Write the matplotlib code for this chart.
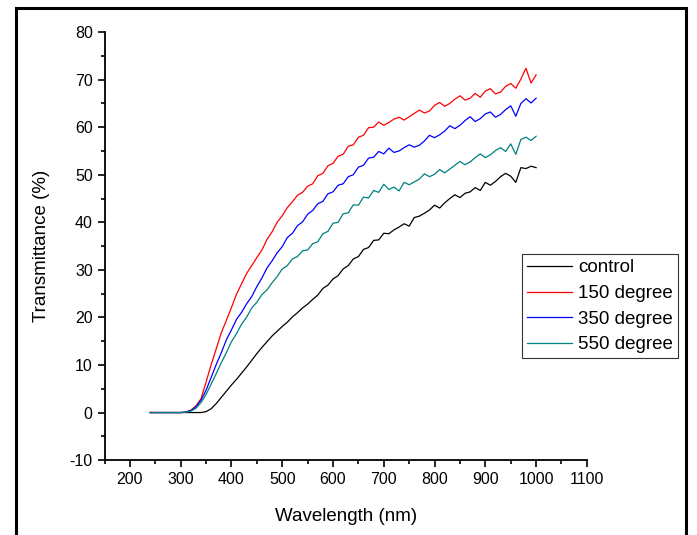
import matplotlib
matplotlib.use('Agg')
import matplotlib.pyplot as plt
from matplotlib.patches import Rectangle
from matplotlib.ticker import MultipleLocator

plt.rcParams['font.family'] = ['Liberation Sans', 'DejaVu Sans']
plt.rcParams['axes.unicode_minus'] = False

# wavelength grid (nm), 240..1000 every 10 nm
wavelength = list(range(240, 1001, 10))

control = [0, 0, 0, 0, 0, 0, 0, 0, 0, 0, 0,
           0.2, 0.8, 1.9, 3.2, 4.5, 5.8, 7.0, 8.3, 9.6, 11.0,
           12.4, 13.7, 14.9, 16.1, 17.1, 18.1, 19.0, 20.1, 21.0, 22.0,
           22.8, 23.8, 24.7, 26.1, 26.8, 28.1, 28.8, 30.2, 30.9, 32.3,
           32.8, 34.3, 34.7, 36.2, 36.3, 37.7, 37.6, 38.4, 39.0, 39.7,
           39.2, 41.0, 41.3, 41.9, 42.6, 43.6, 43.0, 44.1, 45.0, 45.8,
           45.2, 46.1, 46.4, 47.3, 46.7, 48.4, 47.8, 48.6, 49.6, 50.3,
           49.7, 48.4, 51.5, 51.3, 51.8, 51.5]

deg150 = [0, 0, 0, 0, 0, 0, 0,
          0.1, 0.5, 1.4, 2.9, 6.4, 10.1, 13.4, 16.8, 19.4, 22.1,
          24.9, 27.1, 29.3, 30.9, 32.6, 34.2, 36.4, 38.0, 40.0, 41.4,
          43.1, 44.3, 45.7, 46.3, 47.6, 48.1, 49.8, 50.3, 51.9, 52.4,
          53.9, 54.3, 56.0, 56.3, 57.9, 58.3, 59.9, 60.0, 61.1, 60.4,
          61.0, 61.7, 62.1, 61.5, 62.2, 62.9, 63.6, 63.0, 63.4, 64.6,
          65.2, 64.4, 65.0, 65.9, 66.6, 65.7, 66.1, 67.1, 66.3, 67.6,
          68.1, 67.0, 67.4, 68.6, 69.2, 68.2, 70.1, 72.4, 69.3, 71.0]

deg350 = [0, 0, 0, 0, 0, 0, 0,
          0.1, 0.4, 1.2, 2.6, 4.7, 7.4, 10.1, 12.6, 15.3, 17.4,
          19.6, 21.1, 22.9, 24.4, 26.5, 28.3, 30.4, 31.9, 33.6, 34.9,
          36.8, 37.7, 39.3, 40.1, 41.7, 42.5, 43.9, 44.4, 46.0, 46.4,
          47.8, 48.1, 49.6, 50.0, 51.6, 52.0, 53.5, 53.7, 54.9, 54.4,
          55.6, 54.7, 55.0, 55.7, 56.3, 55.8, 56.2, 57.1, 58.3, 57.8,
          58.4, 59.2, 60.3, 59.7, 60.4, 61.4, 62.2, 61.2, 61.8, 62.8,
          63.2, 62.1, 62.7, 63.7, 64.5, 62.3, 65.0, 66.0, 65.1, 66.1]

deg550 = [0, 0, 0, 0, 0, 0, 0,
          0.05, 0.3, 0.9, 2.1, 3.8, 6.0, 8.2, 10.5, 12.6, 14.9,
          16.6, 18.6, 20.1, 22.0, 23.2, 24.8, 25.8, 27.3, 28.6, 30.2,
          30.9, 32.3, 32.8, 34.0, 34.2, 35.5, 35.9, 37.6, 38.1, 39.8,
          40.0, 41.8, 42.0, 43.7, 43.6, 45.3, 45.1, 46.7, 46.3, 48.0,
          46.9, 47.4, 46.6, 48.4, 47.9, 48.5, 49.1, 50.2, 49.6, 50.1,
          51.1, 50.4, 51.2, 52.0, 52.8, 52.1, 52.7, 53.6, 54.4, 53.6,
          54.2, 55.1, 55.7, 54.9, 56.5, 54.3, 57.4, 57.9, 57.2, 58.1]

series = [(control, 'control', 'black'),
          (deg150, '150 degree', '#ff0000'),
          (deg350, '350 degree', '#0000ff'),
          (deg550, '550 degree', '#008080')]

fig = plt.figure(figsize=(6.97, 5.35), dpi=100)
ax = fig.add_axes([0.150, 0.140, 0.692, 0.800])

for vals, lab, col in series:
    ax.plot(wavelength, vals, color=col, lw=0.9, label=lab)

ax.set_xlim(150, 1100)
ax.set_ylim(-10, 80)
ax.xaxis.set_major_locator(MultipleLocator(100))
ax.xaxis.set_minor_locator(MultipleLocator(50))
ax.yaxis.set_major_locator(MultipleLocator(10))
ax.yaxis.set_minor_locator(MultipleLocator(5))
ax.set_xticks(range(200, 1101, 100))
ax.spines['top'].set_visible(False)
ax.spines['right'].set_visible(False)
for s in ['left', 'bottom']:
    ax.spines[s].set_linewidth(1.3)
ax.tick_params(which='major', direction='out', length=5, width=1.2, labelsize=11.5)
ax.tick_params(which='minor', direction='out', length=3, width=1.2)

ax.set_xlabel('Wavelength (nm)', fontsize=13.5, labelpad=15)
ax.set_ylabel('Transmittance (%)', fontsize=13.5, labelpad=14)

leg = fig.legend(loc='upper left', bbox_to_anchor=(0.749, 0.525), fontsize=13.5,
                 frameon=True, fancybox=False, handlelength=2.4, handletextpad=0.3,
                 labelspacing=0.45, borderpad=0.28, borderaxespad=0)
leg.get_frame().set_edgecolor('black')
leg.get_frame().set_linewidth(0.8)

# outer frame around the picture
fig.patches.append(Rectangle((16/697, -0.05), (686-16)/697, 1.05-8/535,
                             transform=fig.transFigure, fill=False,
                             edgecolor='black', lw=2.2))

fig.savefig('out.png', dpi=100)
